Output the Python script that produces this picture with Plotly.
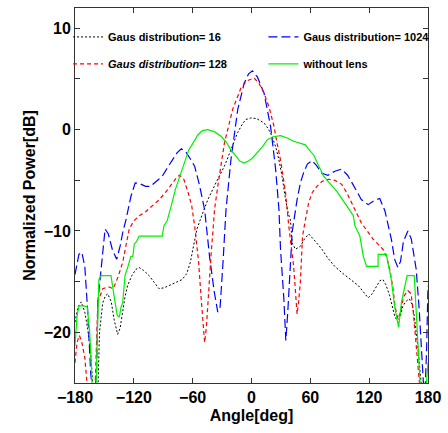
import plotly.graph_objects as go

# ---- data (angle in deg, normalized power in dB) ----
blue_x = [-180, -176, -173, -170, -167, -164, -161, -158, -156.7, -153, -149.3, -146, -142, -137.5, -134, -131,
          -128, -123, -118.6, -114.6, -108, -103, -97, -91, -86, -81, -76, -71.5, -67, -63, -58, -53, -47.8,
          -42.8, -38, -34.4, -32, -29, -26, -21, -14, -7.4, -3, 1, 6, 12.8, 19.5, 24.6, 28, 29.6, 33, 35, 37,
          41.5, 46.5, 50, 53.3, 57, 61.7, 66, 71.8, 78, 85, 92, 98, 104, 112, 119, 125, 130.8, 136, 142.6, 146,
          149.3, 152, 155, 159.5, 163, 168, 171, 174.6, 176.5, 178.5, 180]
blue_y = [-14.3, -12.3, -12.1, -13.5, -18, -24, -27, -24, -17, -13.1, -9.8, -10.3, -11.8, -12.8, -11.5, -10,
          -8.9, -6.6, -5.25, -5.3, -5.6, -5.6, -5.1, -4.6, -3.8, -3.0, -2.3, -1.9, -2.2, -2.8, -3.6, -5.5, -7.9,
          -12.5, -16, -18, -17.5, -13, -7.9, -3.0, 2.0, 4.6, 5.5, 5.8, 5.2, 3.6, 0.3, -3.9, -7.9, -11.8, -16.7,
          -20.8, -18, -10.1, -6.9, -5.2, -4.2, -3.4, -3.05, -3.5, -4.3, -4.5, -4.1, -3.9, -4.5, -5.5, -6.9, -7.4,
          -7.0, -6.8, -8, -10.8, -12.8, -13.6, -13, -11, -10.0, -10.8, -13.8, -17.7, -23.3, -27, -22, -15.4]

red_x = [-180, -178, -175.5, -173, -170, -168, -166, -160, -158, -156.7, -151.7, -146, -141, -136, -131.4, -127,
         -124.7, -120, -114.6, -108, -101, -94, -87.7, -82, -77, -73.5, -69, -64.7, -61, -58, -54, -51.3, -49,
         -47.8, -46, -44, -41, -39.4, -37.7, -34.4, -31, -27.6, -23, -19.2, -14, -10.8, -5, 2.7, 8, 12.8, 18,
         23, 26, 29.6, 34.7, 38, 43, 46.5, 48, 49.8, 52, 53.3, 58.3, 62, 66.7, 72, 78.6, 85, 92, 97, 102, 107,
         112, 118, 124, 129, 134, 138, 141, 144, 146.5, 149.3, 152, 155, 159.5, 162.8, 165, 168, 171, 173, 180]
red_y = [-23, -21, -20.3, -21, -22.5, -25, -27, -27, -21, -17, -15.7, -15.5, -15.7, -14.5, -13.1, -11.0,
         -9.8, -9.0, -8.5, -8.1, -7.5, -6.9, -6.2, -5.5, -4.8, -4.5, -4.9, -6.2, -7.5, -9.5, -13, -16.7, -19.5,
         -21, -19.5, -16, -12, -10.1, -7.9, -5.6, -3.4, -1.3, 0.5, 2.0, 3.3, 4.1, 4.8, 5.1, 4.5, 3.6, 2.2,
         0.3, -1.3, -3.0, -6.2, -9.5, -13.5, -18.2, -17, -15.1, -10.6, -9.8, -7.2, -6.2, -5.6, -5.1, -4.9, -5.0,
         -5.4, -6.2, -7.2, -8.2, -9.2, -10.0, -10.8, -11.3, -11.8, -12.6, -13.8, -15.5, -17.5, -18.7, -18,
         -16.5, -15.9, -16.2, -18, -21.3, -25, -27, -27]

black_x = [-180, -177, -173.6, -170, -167, -164, -162, -160, -157, -155, -151.7, -149, -146.6, -143, -140, -136.5,
           -134, -131.4, -129, -126.4, -122, -118, -114.6, -110, -104.5, -99, -94.3, -89, -84.2, -77, -70.8, -66,
           -62.4, -60, -55.6, -50, -44.5, -36, -27.6, -21, -14.2, -9, -5.7, -0.7, 5, 12.8, 17, 21, 25, 28, 31.5,
           34.7, 37.5, 39.7, 41.5, 44.8, 47.5, 50, 54, 58.3, 64, 71.8, 78, 85, 92, 98.8, 104, 109, 114, 119, 123,
           127.4, 131, 134, 137, 141, 146, 149.3, 152, 154.4, 158, 161, 164, 166, 169.5, 173, 175, 180]
black_y = [-19, -17.5, -17.0, -18, -19.7, -22, -25, -27, -27, -20, -17.1, -16.4, -16.2, -17, -18.8, -20.2,
           -19.6, -18, -16.5, -15.4, -14.4, -13.8, -13.6, -13.9, -14.4, -15.1, -15.7, -15.6, -15.4, -15.1, -14.8,
           -14.2, -13.1, -11.9, -9.8, -8.3, -6.9, -5.2, -3.6, -2.0, -0.3, 0.6, 1.0, 1.15, 1.1, 0.66, 0.1, -0.66,
           -1.8, -3.0, -4.8, -6.9, -8.3, -8.9, -11.2, -11.8, -11.6, -11.5, -10.8, -10.3, -10.9, -11.8, -12.7,
           -13.5, -14.1, -14.6, -15.0, -15.4, -16.0, -16.6, -16.2, -15.4, -14.9, -14.8, -15.3, -16.4, -18.4,
           -19.0, -18.3, -17.4, -16.9, -16.7, -17.3, -18.4, -21.3, -25, -27, -27]

green_x = [-180, -178, -176, -171, -167.5, -165, -163, -162, -159, -157.5, -155.7, -153.4, -143.3, -140, -137,
           -134.8, -133, -131.4, -130, -129, -126, -123, -121, -119.6, -117, -114.6, -91, -89.3, -86, -84.2, -81,
           -77.6, -74, -70.8, -67, -64, -61.4, -58, -54.6, -50, -44.5, -38, -31, -26, -21, -16, -12, -7.4, -3, 1,
           6, 11, 16.2, 22, 29.6, 36, 43, 49, 55, 58, 63.4, 73.5, 87, 97, 103.8, 105.5, 110.5, 114, 117.3, 129.1,
           129.1, 137.5, 142.6, 146, 150, 153, 156, 158.7, 166, 171, 173, 175, 178, 180]
green_y = [-21.3, -18.5, -17.4, -17.4, -17.5, -20, -24, -27, -27, -20, -14.8, -14.4, -14.4, -16.5, -18.3,
           -18.5, -17.5, -17.1, -15.5, -14.4, -13.5, -12.5, -12.5, -11.3, -11.0, -10.5, -10.5, -9.5, -9.0, -8.4,
           -7.2, -5.9, -4.9, -3.9, -2.8, -2.0, -1.6, -1.0, -0.5, -0.1, 0.0, -0.2, -0.66, -1.2, -2.0, -2.6, -3.1,
           -3.3, -3.1, -2.8, -2.3, -1.7, -1.0, -0.7, -0.6, -0.8, -1.15, -1.3, -1.5, -1.9, -2.5, -4.6, -6.1, -7.5,
           -8.5, -9.5, -10.5, -12.5, -13.5, -13.5, -12.3, -12.3, -14.8, -17.5, -19.5, -17, -15.5, -14.4, -14.4,
           -23.3, -27, -27, -25.5, -23]

x_ticks = [-180, -120, -60, 0, 60, 120, 180]
x_labels = ["\u2212180", "\u2212120", "\u221260", "0", "60", "120", "180"]
y_ticks = [-25, -20, -15, -10, -5, 0, 5, 10]
y_labels = ["", "\u221220", "", "\u221210", "", "0", "", "10"]

FONT = "Liberation Sans, Arial, sans-serif"

fig = go.Figure()
fig.add_trace(go.Scatter(x=black_x, y=black_y, mode="lines", name="Gaus distribution= 16",
                         line=dict(color="#000000", width=1, dash="2px,2px"), legend="legend"))
fig.add_trace(go.Scatter(x=blue_x, y=blue_y, mode="lines", name="Gaus distribution= 1024",
                         line=dict(color="#0000ff", width=1.2, dash="9px,4px"), legend="legend2"))
fig.add_trace(go.Scatter(x=red_x, y=red_y, mode="lines", name="<i>Gaus distribution</i>= 128",
                         line=dict(color="#ff0000", width=1.2, dash="4px,3px"), legend="legend3"))
fig.add_trace(go.Scatter(x=green_x, y=green_y, mode="lines", name="without lens",
                         line=dict(color="#00f000", width=1.2), legend="legend4"))

legend_common = dict(orientation="h", xanchor="left", yanchor="middle", bgcolor="rgba(0,0,0,0)",
                     font=dict(family=FONT, size=11, color="black", weight="bold"),
                     itemwidth=30, itemclick=False, itemdoubleclick=False)

col1 = (68 - 75) / 356
col2 = (265 - 75) / 356
row1 = (383 - 36) / 376
row2 = (383 - 63) / 376

fig.update_layout(
    width=448, height=433,
    margin=dict(l=75, r=17, t=7, b=50),
    paper_bgcolor="white", plot_bgcolor="white",
    showlegend=True,
    legend=dict(x=col1, y=row1, **legend_common),
    legend2=dict(x=col2, y=row1, **legend_common),
    legend3=dict(x=col1, y=row2, **legend_common),
    legend4=dict(x=col2, y=row2, **legend_common),
    xaxis=dict(range=[-180, 180], tickvals=x_ticks, ticktext=x_labels, ticks="inside", ticklen=5,
               tickcolor="#333", showline=True, linecolor="#333", linewidth=1, mirror="allticks",
               showgrid=False, zeroline=False,
               tickfont=dict(family=FONT, size=16, color="black", weight="bold"),
               title=dict(text="Angle[deg]", font=dict(family=FONT, size=16, color="black", weight="bold"),
                          standoff=4)),
    yaxis=dict(range=[-25, 12], tickvals=y_ticks, ticktext=y_labels, ticks="inside", ticklen=5,
               tickcolor="#333", showline=True, linecolor="#333", linewidth=1, mirror="allticks",
               showgrid=False, zeroline=False,
               tickfont=dict(family=FONT, size=16, color="black", weight="bold"),
               title=dict(text="Normalized Power[dB]", font=dict(family=FONT, size=16, color="black", weight="bold"),
                          standoff=4)),
)

fig.write_html("out.html")
